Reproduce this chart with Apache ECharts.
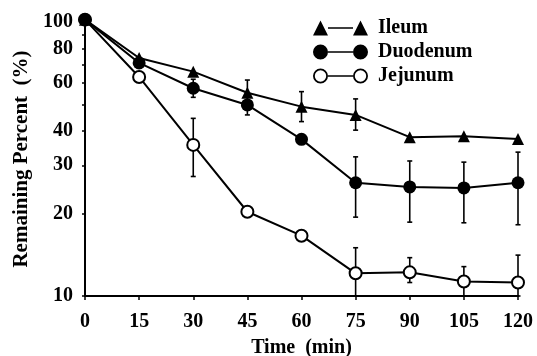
<!DOCTYPE html>
<html><head><meta charset="utf-8">
<script src="https://cdn.jsdelivr.net/npm/echarts@6/dist/echarts.min.js"></script>
<style>html,body{margin:0;padding:0;background:#fff}#c{width:537px;height:356px}</style>
</head><body><div id="c"></div>
<script>
const times = [0, 15, 30, 45, 60, 75, 90, 105, 120];
const ileum = [102, 73.9, 65.9, 55.2, 49.1, 45.8, 38.0, 38.3, 37.4];
const duodenum = [102, 70.9, 57.3, 49.8, 37.3, 25.9, 25.0, 24.8, 25.9];
const jejunum = [102, 63.0, 35.6, 20.3, 16.6, 12.1, 12.2, 11.3, 11.2];
// error bars: [time, low, high]
const ileumErr = [[45, 49.6, 61.4], [60, 43.3, 55.7], [75, 40.3, 52.4]];
const duodenumErr = [[30, 53.1, 61.8], [45, 45.8, 54.1], [75, 19.4, 32.2], [90, 18.6, 31.1], [105, 18.5, 30.8], [120, 18.2, 33.5]];
const jejunumErr = [[30, 27.3, 44.5], [75, 10, 15.0], [90, 11.2, 13.8], [105, 10, 12.8], [120, 10, 14.1]];
const yLabelValues = [10, 20, 30, 40, 60, 80, 100];
const yTickValues = [10, 20, 30, 40, 50, 60, 70, 80, 90, 100];
const seriesNames = ['Ileum', 'Duodenum', 'Jejunum'];

const FONT = 'Liberation Serif';
const pair = (vals) => times.map((t, i) => [t, vals[i]]);

function errRender(params, api) {
  const x = api.value(0), lo = api.value(1), hi = api.value(2);
  const p1 = api.coord([x, lo]), p2 = api.coord([x, hi]);
  const w = 2.5;
  const st = { stroke: '#000', lineWidth: 1.6 };
  return { type: 'group', children: [
    { type: 'line', shape: { x1: p1[0], y1: p1[1], x2: p2[0], y2: p2[1] }, style: st },
    { type: 'line', shape: { x1: p2[0] - w, y1: p2[1], x2: p2[0] + w, y2: p2[1] }, style: st },
    { type: 'line', shape: { x1: p1[0] - w, y1: p1[1], x2: p1[0] + w, y2: p1[1] }, style: st }
  ]};
}

const icons = {
  Ileum: 'path://M0 15 L7.5 0 L15 15 Z M15 6.8 L40 6.8 L40 8.2 L15 8.2 Z M40 15 L47.5 0 L55 15 Z',
  Duodenum: 'path://M0 7.5 A7.5 7.5 0 1 1 15 7.5 A7.5 7.5 0 1 1 0 7.5 Z M15 6.8 L40 6.8 L40 8.2 L15 8.2 Z M40 7.5 A7.5 7.5 0 1 1 55 7.5 A7.5 7.5 0 1 1 40 7.5 Z',
  Jejunum: 'path://M0 7.5 A7.5 7.5 0 1 1 15 7.5 A7.5 7.5 0 1 1 0 7.5 Z M1.8 7.5 A5.7 5.7 0 1 0 13.2 7.5 A5.7 5.7 0 1 0 1.8 7.5 Z M15 6.8 L40 6.8 L40 8.2 L15 8.2 Z M40 7.5 A7.5 7.5 0 1 1 55 7.5 A7.5 7.5 0 1 1 40 7.5 Z M41.8 7.5 A5.7 5.7 0 1 0 53.2 7.5 A5.7 5.7 0 1 0 41.8 7.5 Z'
};

const chart = echarts.init(document.getElementById('c'), null, { renderer: 'canvas' });
const lineBase = { type: 'line', clip: false, lineStyle: { color: '#000', width: 2 }, itemStyle: { color: '#000' }, z: 3, animation: false };
chart.setOption({
  animation: false,
  backgroundColor: '#fff',
  grid: { left: 85, right: 19, top: 22, bottom: 60, outerBoundsMode: 'none', containLabel: false },
  legend: {
    orient: 'vertical', left: 313, top: 18, padding: 0, itemWidth: 55, itemHeight: 15, itemGap: 4,
    itemStyle: { borderWidth: 0 },
    textStyle: { fontFamily: FONT, fontWeight: 'bold', fontSize: 20, color: '#000', padding: [0, 0, 0, 5] },
    data: seriesNames.map(n => ({ name: n, icon: icons[n] }))
  },
  xAxis: {
    type: 'value', min: 0, max: 120, interval: 15,
    name: 'Time  (min)', nameLocation: 'middle', nameGap: 42,
    nameTextStyle: { fontFamily: FONT, fontWeight: 'bold', fontSize: 20, color: '#000' },
    axisLine: { lineStyle: { color: '#000', width: 2 } },
    axisTick: { length: 4, lineStyle: { color: '#000', width: 1.5 } },
    axisLabel: { margin: 16, fontFamily: FONT, fontWeight: 'bold', fontSize: 20, color: '#000' },
    splitLine: { show: false }
  },
  yAxis: {
    type: 'log', logBase: 10, min: 10, max: 100,
    name: 'Remaining Percent  (%)', nameLocation: 'middle', nameGap: 52,
    nameTextStyle: { fontFamily: FONT, fontWeight: 'bold', fontSize: 21, color: '#000' },
    axisLine: { show: true, lineStyle: { color: '#000', width: 2 } },
    axisTick: { show: true, length: 3, customValues: yTickValues, lineStyle: { color: '#000', width: 1.5 } },
    axisLabel: { margin: 12, customValues: yLabelValues, fontFamily: FONT, fontWeight: 'bold', fontSize: 20, color: '#000' },
    splitLine: { show: false }, minorTick: { show: false }
  },
  series: [
    { type: 'custom', name: 'errJ', renderItem: errRender, data: jejunumErr, encode: { x: 0, y: [1, 2] }, z: 1, clip: false },
    { type: 'custom', name: 'errD', renderItem: errRender, data: duodenumErr, encode: { x: 0, y: [1, 2] }, z: 1, clip: false },
    { type: 'custom', name: 'errI', renderItem: errRender, data: ileumErr, encode: { x: 0, y: [1, 2] }, z: 1, clip: false },
    Object.assign({}, lineBase, { name: 'Jejunum', data: pair(jejunum), symbol: 'emptyCircle', symbolSize: 12, itemStyle: { color: '#000', borderWidth: 2 } }),
    Object.assign({}, lineBase, { name: 'Ileum', data: pair(ileum), symbol: 'triangle', symbolSize: 12 }),
    Object.assign({}, lineBase, { name: 'Duodenum', data: pair(duodenum), symbol: 'circle', symbolSize: 13 })
  ]
});
</script>
</body></html>
